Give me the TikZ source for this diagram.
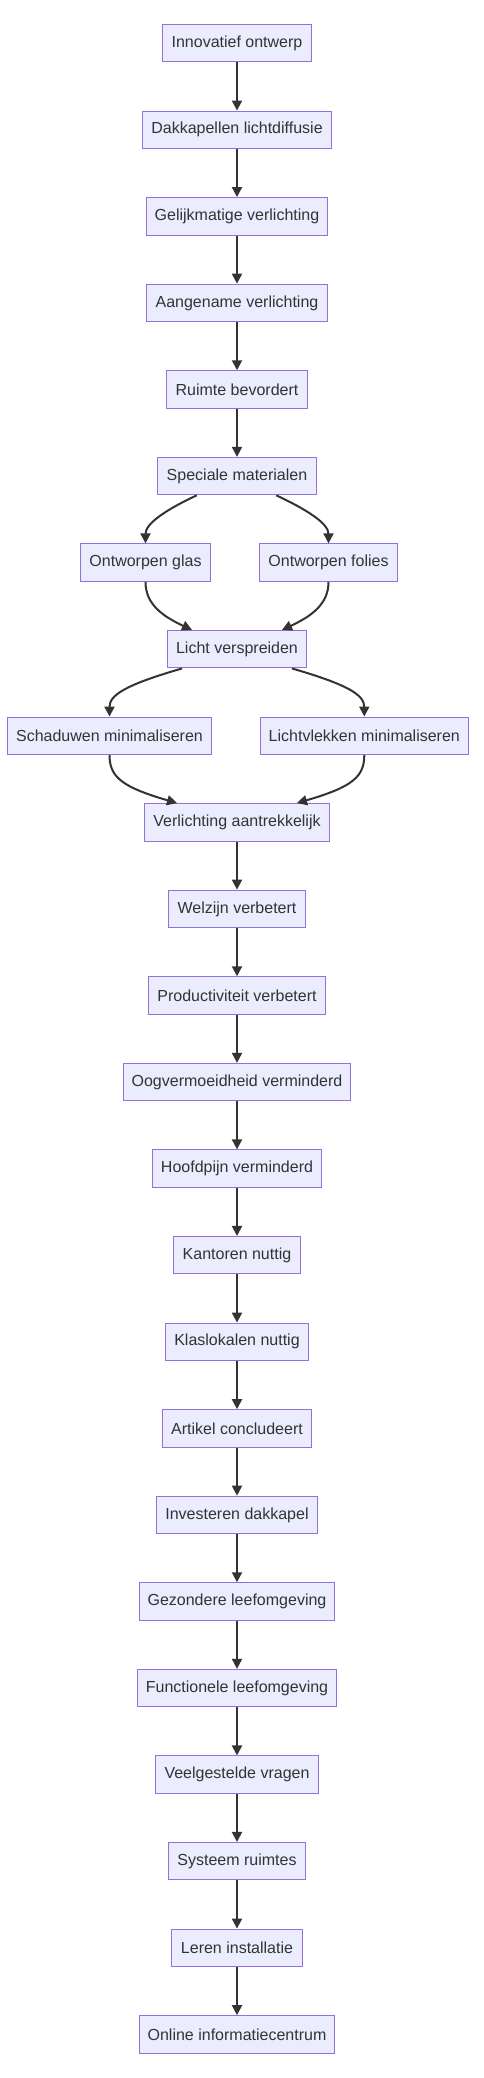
\documentclass[tikz,border=0pt]{standalone}
\usepackage{fontspec}
\setmainfont{Liberation Sans}
\usetikzlibrary{arrows.meta}
\definecolor{boxfill}{HTML}{ECECFF}
\definecolor{boxline}{HTML}{9370DB}
\definecolor{ink}{HTML}{333333}
\tikzset{
  box/.style={draw=boxline, fill=boxfill, line width=1pt, text=ink, inner sep=0pt,
    minimum height=37.5pt, font=\fontsize{16pt}{19pt}\selectfont, anchor=center},
  arr/.style={draw=ink, line width=2pt, -{Triangle[length=10pt,width=10pt]}}
}
\begin{document}
\begin{tikzpicture}[x=1pt,y=-1pt]
\useasboundingbox[fill=white] (0,0) rectangle (484,2078);
% rows: y = 43.2 + (i-1)*86.57
\node[box, minimum width=148.5pt] (n1) at (237,43.2) {Innovatief ontwerp};
\node[box, minimum width=188.5pt] (n2) at (237,129.8) {Dakkapellen lichtdiffusie};
\node[box, minimum width=181.7pt] (n3) at (237,216.3) {Gelijkmatige verlichting};
\node[box, minimum width=180.3pt] (n4) at (237,302.9) {Aangename verlichting};
\node[box, minimum width=140.7pt] (n5) at (237,389.5) {Ruimte bevordert};
\node[box, minimum width=158.3pt] (n6) at (237,476.1) {Speciale materialen};
\node[box, minimum width=130.3pt] (n7a) at (145.5,562.6) {Ontworpen glas};
\node[box, minimum width=138.3pt] (n7b) at (328.5,562.6) {Ontworpen folies};
\node[box, minimum width=139.7pt] (n8) at (237,649.2) {Licht verspreiden};
\node[box, minimum width=204.3pt] (n9a) at (109.5,735.8) {Schaduwen minimaliseren};
\node[box, minimum width=208pt] (n9b) at (364.3,735.8) {Lichtvlekken minimaliseren};
\node[box, minimum width=184.3pt] (n10) at (237,822.3) {Verlichting aantrekkelijk};
\node[box, minimum width=137pt] (n11) at (237,908.9) {Welzijn verbetert};
\node[box, minimum width=176.3pt] (n12) at (237,995.5) {Productiviteit verbetert};
\node[box, minimum width=227pt] (n13) at (237,1082.1) {Oogvermoeidheid verminderd};
\node[box, minimum width=169pt] (n14) at (237,1168.6) {Hoofdpijn verminderd};
\node[box, minimum width=127pt] (n15) at (237,1255.2) {Kantoren nuttig};
\node[box, minimum width=143pt] (n16) at (237,1341.8) {Klaslokalen nuttig};
\node[box, minimum width=149pt] (n17) at (237,1428.4) {Artikel concludeert};
\node[box, minimum width=160.7pt] (n18) at (237,1514.9) {Investeren dakkapel};
\node[box, minimum width=195.3pt] (n19) at (237,1601.5) {Gezondere leefomgeving};
\node[box, minimum width=199pt] (n20) at (237,1688.1) {Functionele leefomgeving};
\node[box, minimum width=162.7pt] (n21) at (237,1774.7) {Veelgestelde vragen};
\node[box, minimum width=137pt] (n22) at (237,1861.2) {Systeem ruimtes};
\node[box, minimum width=130.3pt] (n23) at (237,1947.8) {Leren installatie};
\node[box, minimum width=195.3pt] (n24) at (237,2034.4) {Online informatiecentrum};
% straight connectors
\foreach \a/\b in {n1/n2,n2/n3,n3/n4,n4/n5,n5/n6,n10/n11,n11/n12,n12/n13,n13/n14,n14/n15,n15/n16,n16/n17,n17/n18,n18/n19,n19/n20,n20/n21,n21/n22,n22/n23,n23/n24}
  \draw[arr] (\a) -- (\b);
% branching connectors
\draw[arr] ([xshift=-40.3pt]n6.south) .. controls +(-30,14) and +(0,-20) .. (n7a.north);
\draw[arr] ([xshift=39.3pt]n6.south) .. controls +(30,14) and +(0,-20) .. (n7b.north);
\draw[arr] (n7a.south) .. controls +(0,22) and +(-30,-14) .. ([xshift=-45pt]n8.north);
\draw[arr] (n7b.south) .. controls +(0,22) and +(30,-14) .. ([xshift=45pt]n8.north);
\draw[arr] ([xshift=-55pt]n8.south) .. controls +(-55,16) and +(0,-22) .. (n9a.north);
\draw[arr] ([xshift=55pt]n8.south) .. controls +(55,16) and +(0,-22) .. (n9b.north);
\draw[arr] (n9a.south) .. controls +(0,22) and +(-55,-16) .. ([xshift=-60pt]n10.north);
\draw[arr] (n9b.south) .. controls +(0,22) and +(55,-16) .. ([xshift=60pt]n10.north);
\end{tikzpicture}
\end{document}
